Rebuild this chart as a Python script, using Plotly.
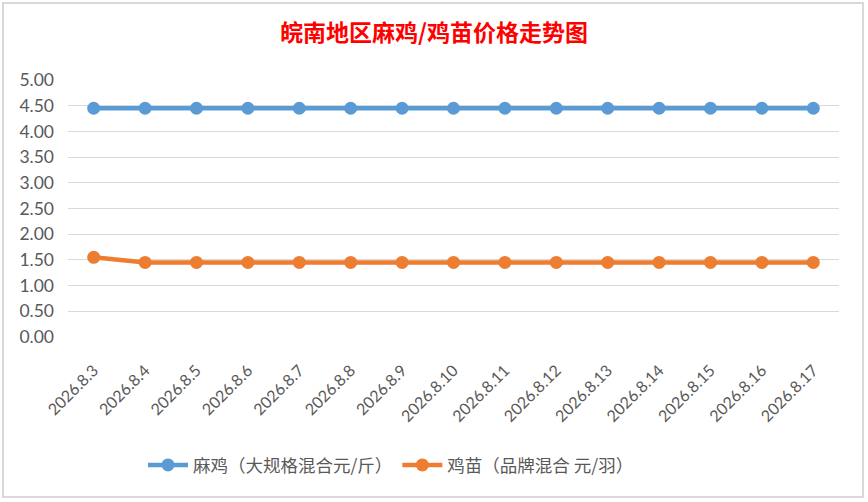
import plotly.graph_objects as go

dates = ["2026.8.3", "2026.8.4", "2026.8.5", "2026.8.6", "2026.8.7", "2026.8.8",
         "2026.8.9", "2026.8.10", "2026.8.11", "2026.8.12", "2026.8.13",
         "2026.8.14", "2026.8.15", "2026.8.16", "2026.8.17"]
maji = [4.45, 4.45, 4.45, 4.45, 4.45, 4.45, 4.45, 4.45, 4.45, 4.45, 4.45, 4.45, 4.45, 4.45, 4.45]
jimiao = [1.55, 1.45, 1.45, 1.45, 1.45, 1.45, 1.45, 1.45, 1.45, 1.45, 1.45, 1.45, 1.45, 1.45, 1.45]
y_ticks = [0, 0.5, 1, 1.5, 2, 2.5, 3, 3.5, 4, 4.5, 5]
y_labels = [f"{v:.2f}" for v in y_ticks]
name_maji = "麻鸡（大规格混合元/斤）"
name_jimiao = "鸡苗（品牌混合 元/羽）"
title = "皖南地区麻鸡/鸡苗价格走势图"

W, H = 868, 502
L, R, T, B = 68, 29, 80, 165
pw, ph = W - L - R, H - T - B


def px_x(x):
    return (x - L) / pw


def px_y(y):
    return (H - B - y) / ph


fig = go.Figure()
fig.add_trace(go.Scatter(
    x=dates, y=maji, name=name_maji, mode="lines+markers",
    line=dict(color="#5B9BD5", width=4.5),
    marker=dict(color="#5B9BD5", size=13),
))
fig.add_trace(go.Scatter(
    x=dates, y=jimiao, name=name_jimiao, mode="lines+markers",
    line=dict(color="#ED7D31", width=4.5),
    marker=dict(color="#ED7D31", size=13),
))

fig.update_layout(
    width=W, height=H,
    margin=dict(l=L, r=R, t=T, b=B, autoexpand=False),
    paper_bgcolor="white", plot_bgcolor="white",
    title=dict(text=title, x=434 / W, xanchor="center", y=1 - 33 / H, yanchor="middle",
               font=dict(family="Noto Sans CJK SC", size=23, color="#FF0000", weight="bold")),
    showlegend=True,
    legend=dict(orientation="h", x=px_x(143), xanchor="left", y=px_y(465), yanchor="middle",
                font=dict(family="Noto Sans CJK SC", size=17.5, color="#595959"),
                itemwidth=40, bgcolor="rgba(0,0,0,0)"),
    xaxis=dict(type="category", range=[-0.5, len(dates) - 0.5], tickangle=-45,
               showgrid=False, showline=False, zeroline=False, ticks="",
               ticklabelstandoff=20,
               tickfont=dict(family="Lato", size=16, color="#595959")),
    yaxis=dict(range=[0, 5], tickvals=y_ticks, ticktext=y_labels,
               showgrid=True, gridcolor="#D9D9D9", gridwidth=1.3, zeroline=False,
               showline=False, ticks="", ticklabelstandoff=13,
               tickfont=dict(family="Lato", size=17.5, color="#595959")),
)

fig.add_shape(type="rect", xref="paper", yref="paper",
              x0=px_x(3), x1=px_x(863), y0=px_y(497), y1=px_y(3),
              line=dict(color="#D9D9D9", width=2), fillcolor="rgba(0,0,0,0)", layer="below")

fig.write_html("out.html", config={"displayModeBar": False},
               post_script="document.body.style.margin='0px';document.body.style.overflow='hidden';")
